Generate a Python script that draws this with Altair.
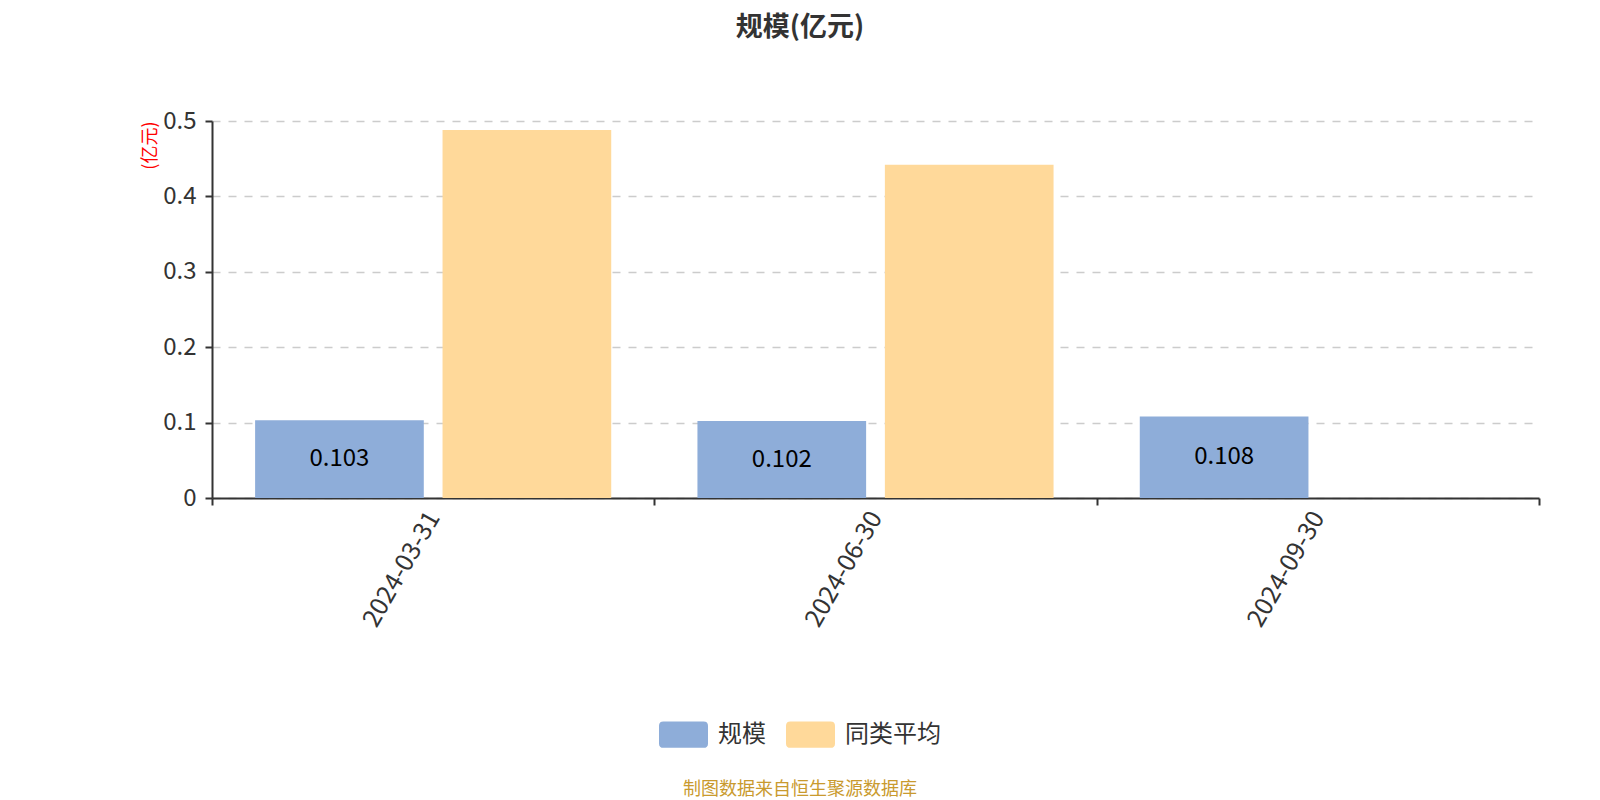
import altair as alt
import pandas as pd

dates = ["2024-03-31", "2024-06-30", "2024-09-30"]
series_names = ["规模", "同类平均"]
scale_values = [0.103, 0.102, 0.108]
peer_avg_values = [0.488, 0.442, None]
colors = ["#8EADD9", "#FFD99A"]
footer_text = "制图数据来自恒生聚源数据库"
title_text = "规模(亿元)"

rows = []
for d, a, b in zip(dates, scale_values, peer_avg_values):
    rows.append({"date": d, "series": series_names[0], "value": a})
    if b is not None:
        rows.append({"date": d, "series": series_names[1], "value": b})
df = pd.DataFrame(rows)

FONT = "Noto Sans CJK SC"

rounded = ("M-0.82,-0.54 L0.82,-0.54 Q1,-0.54 1,-0.36 L1,0.36 Q1,0.54 0.82,0.54 "
           "L-0.82,0.54 Q-1,0.54 -1,0.36 L-1,-0.36 Q-1,-0.54 -0.82,-0.54 Z")

x_enc = alt.X("date:N", sort=dates,
              scale=alt.Scale(paddingInner=0, paddingOuter=0),
              axis=alt.Axis(title=None, labelAngle=-60, labelAlign="right",
                            labelBaseline="middle", labelFontSize=25,
                            labelColor="#333333", labelFont=FONT,
                            labelPadding=8, tickBand="extent", tickSize=7,
                            tickColor="#333333", tickWidth=2,
                            domainColor="#333333", domainWidth=2, grid=False))
xoff_scale = alt.Scale(domain=series_names, paddingInner=0.1, paddingOuter=0.23)

bars = alt.Chart(df).mark_bar().encode(
    x=x_enc,
    xOffset=alt.XOffset("series:N", sort=series_names, scale=xoff_scale),
    y=alt.Y("value:Q",
            scale=alt.Scale(domain=[0, 0.5], nice=False),
            axis=alt.Axis(title="(亿元)", titleColor="red", titleFontSize=18,
                          titleFont=FONT, titleFontWeight="normal",
                          titleAngle=-90, titleX=-62, titleY=0,
                          titleAlign="right", titleBaseline="middle",
                          values=[0, 0.1, 0.2, 0.3, 0.4, 0.5], format="~g",
                          labelFontSize=24, labelColor="#333333", labelFont=FONT,
                          labelPadding=9, tickSize=7, tickColor="#333333",
                          tickWidth=2, domainColor="#333333", domainWidth=2,
                          grid=True, gridColor="#cccccc", gridDash=[8, 8],
                          gridWidth=1.5)),
    color=alt.Color("series:N", sort=series_names,
                    scale=alt.Scale(domain=series_names, range=colors),
                    legend=alt.Legend(title=None, orient="none", direction="horizontal",
                                      legendX=447, legendY=589,
                                      symbolType=rounded, symbolSize=2401,
                                      symbolStrokeWidth=0, symbolOpacity=1,
                                      labelFontSize=24, labelColor="#333333",
                                      labelFont=FONT, labelOffset=10,
                                      columnPadding=20, padding=0)),
)

labels = alt.Chart(df).transform_filter(
    alt.datum.series == series_names[0]
).transform_calculate(
    mid="datum.value / 2"
).mark_text(fontSize=24, color="#000000", font=FONT, baseline="middle").encode(
    x=alt.X("date:N", sort=dates),
    xOffset=alt.XOffset("series:N", sort=series_names),
    y=alt.Y("mid:Q"),
    text=alt.Text("value:Q", format=".3f"),
)

footer = alt.Chart(pd.DataFrame({"t": [footer_text]})).mark_text(
    fontSize=18, color="#C99A2E", font=FONT, baseline="middle", align="center"
).encode(
    x=alt.value(588), y=alt.value(669), text="t:N"
)

title = alt.Chart(pd.DataFrame({"t": [title_text]})).mark_text(
    fontSize=27, fontWeight="bold", color="#333333", font=FONT,
    baseline="middle", align="center"
).encode(
    x=alt.value(588), y=alt.value(-93), text="t:N"
)

chart = alt.layer(bars, labels, footer, title).properties(
    width=1327, height=377,
    autosize=alt.AutoSizeParams(type="none"),
    padding={"left": 204, "top": 113, "right": 53, "bottom": 302},
).configure_view(stroke=None)

chart.save("out.html", embed_options={"renderer": "svg", "actions": False})
